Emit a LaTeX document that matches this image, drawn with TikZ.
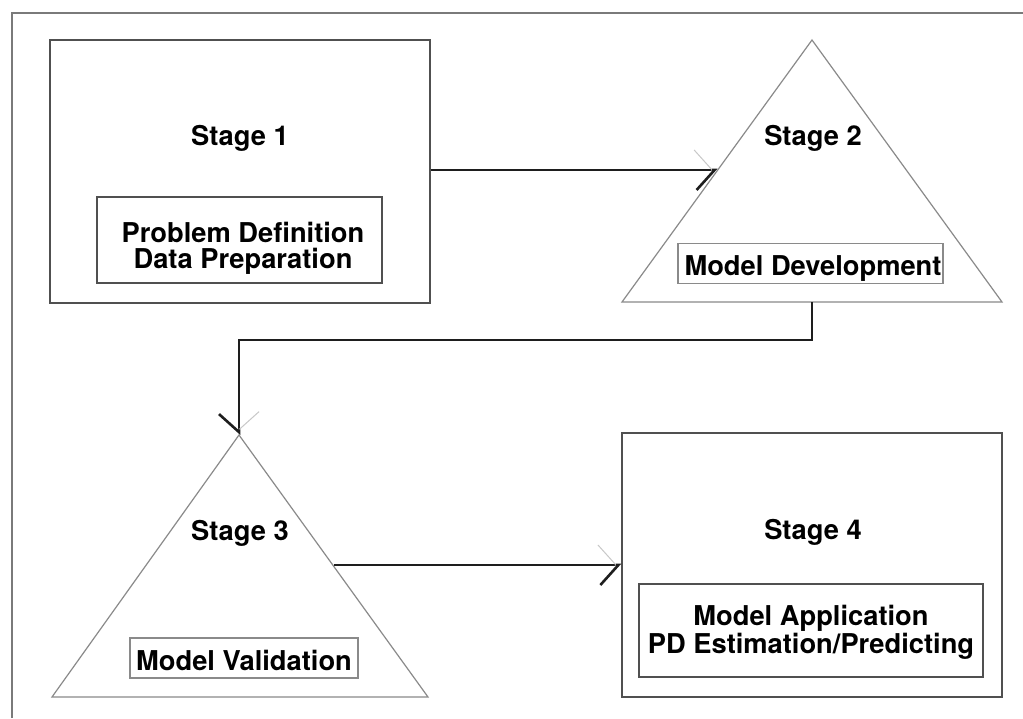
\documentclass[tikz,border=0pt]{standalone}
\usepackage{fontspec}
\setmainfont{TeX Gyre Heros}
\usetikzlibrary{arrows.meta}
\definecolor{boxgray}{HTML}{505050}
\definecolor{trigray}{HTML}{8A8A8A}
\definecolor{framegray}{HTML}{7A7A7A}
\definecolor{arrowdark}{HTML}{1E1E1E}
\definecolor{faintgray}{HTML}{C8C8C8}
\begin{document}
\begin{tikzpicture}[x=1pt,y=-1pt,
  outerbox/.style={draw=boxgray,line width=1.4pt,minimum width=380pt,minimum height=263pt,inner sep=0pt},
  innerbox/.style={draw=boxgray,line width=1.3pt,inner sep=0pt},
  tribox/.style={draw=trigray,line width=1.1pt,inner sep=0pt},
  tri/.style={draw=trigray,line width=1.2pt,line join=miter},
  label/.style={anchor=base,inner sep=0pt,font=\fontsize{27.3pt}{28pt}\selectfont\bfseries},
  flow/.style={draw=arrowdark,line width=1.4pt,
     -{Straight Barb[left,length=18pt,width=40pt,line width=1pt,color=faintgray,sep=-18pt]
       Straight Barb[right,length=18pt,width=40pt,line width=2.6pt]}},
]
\useasboundingbox (0,0) rectangle (1023,718);
\fill[white] (0,0) rectangle (1023,718);
% outer frame (only top and left edges visible)
\draw[framegray,line width=1.1pt] (12,718) -- (12,13) -- (1023,13);

% Stage 1
\node[outerbox] (s1) at (240,171.5) {};
\node[label] (s1t) at (240,145) {Stage 1};
\node[innerbox,minimum width=285pt,minimum height=86pt] (s1i) at (239.5,240) {};
\node[label] (s1a) at (243,242) {Problem Definition};
\node[label] (s1b) at (243,268) {Data Preparation};

% Stage 2 (triangle)
\coordinate (t2a) at (812,40);
\coordinate (t2l) at (622,302);
\coordinate (t2r) at (1002,302);
\draw[tri] (t2a) -- (t2r) -- (t2l) -- cycle;
\coordinate (t2in) at (717.5,170);
\coordinate (t2b) at (812,302);
\node[label] (s2t) at (813,145) {Stage 2};
\node[tribox,minimum width=265pt,minimum height=40pt] (s2i) at (810.5,263.5) {};
\node[label] (s2a) at (813,275) {Model Development};

% Stage 3 (triangle)
\coordinate (t3a) at (239,435);
\coordinate (t3l) at (52,697);
\coordinate (t3r) at (428,697);
\draw[tri] (t3a) -- (t3r) -- (t3l) -- cycle;
\coordinate (t3out) at (334,565);
\node[label] (s3t) at (240,540) {Stage 3};
\node[tribox,minimum width=228pt,minimum height=40pt] (s3i) at (244,658) {};
\node[label] (s3a) at (244,670) {Model Validation};

% Stage 4
\node[outerbox,minimum height=264pt] (s4) at (812,565) {};
\node[label] (s4t) at (813,539) {Stage 4};
\node[innerbox,minimum width=344pt,minimum height=93pt] (s4i) at (811,630.5) {};
\node[label] (s4a) at (811,625) {Model Application};
\node[label] (s4b) at (811,653) {PD Estimation/Predicting};

% connectors
\draw[flow] (s1.east |- t2in) -- (t2in);
\draw[flow] (t2b) -- (812,340) -- (239,340) -- (t3a);
\draw[flow] (t3out) -- (s4.west |- t3out);
\end{tikzpicture}
\end{document}
